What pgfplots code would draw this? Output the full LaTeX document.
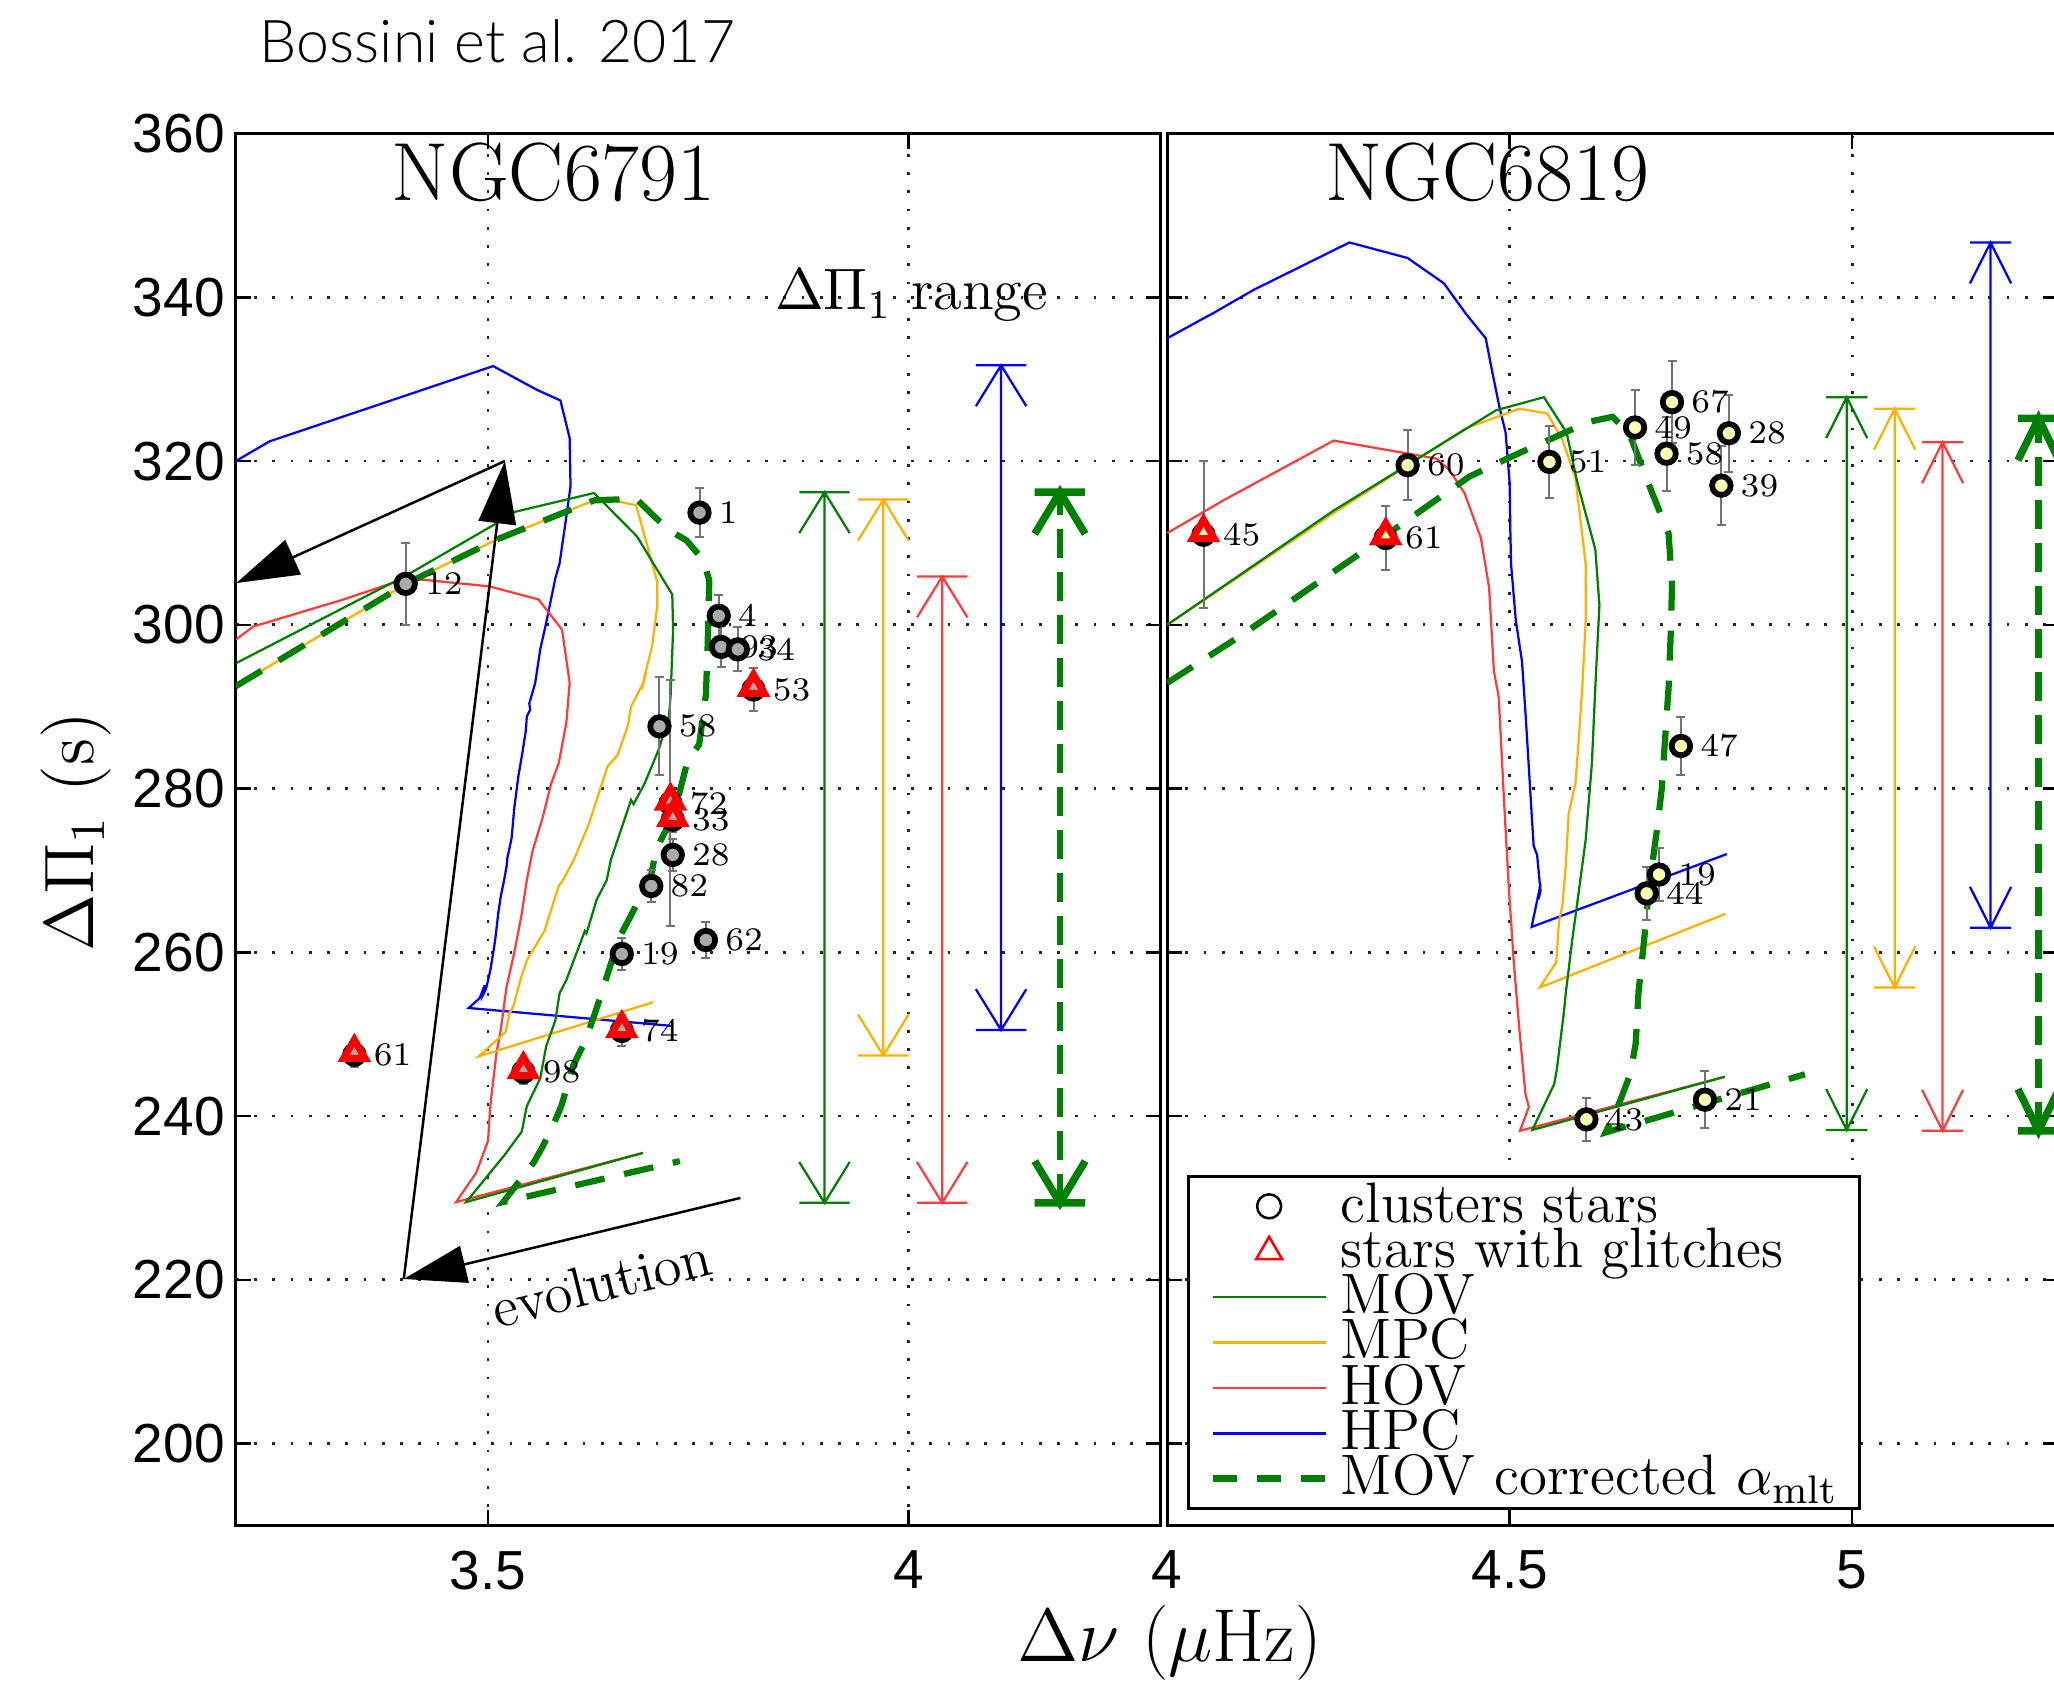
\RequirePackage{fix-cm}
\documentclass[border=0pt]{standalone}
\usepackage{pgfplots}
\pgfplotsset{compat=1.18}
\usetikzlibrary{arrows.meta}
\usepackage{fontspec}
\newfontfamily\helv{Liberation Sans}
\newfontfamily\lightsans{Lato Light}

\definecolor{mgreen}{RGB}{0,128,0}
\definecolor{morange}{RGB}{255,176,0}
\definecolor{mred}{RGB}{255,60,60}
\definecolor{mblue}{RGB}{0,0,255}
\definecolor{ptgray}{RGB}{170,170,170}
\definecolor{ptyellow}{RGB}{255,255,180}
\definecolor{errgray}{RGB}{115,115,115}

\tikzset{lab/.style={anchor=west, xshift=3.3pt, inner sep=0pt, font=\fontsize{6.6}{6.6}\selectfont, black}}

\pgfplotsset{
  panel/.style={
    scale only axis, height=278.38pt, ymin=190, ymax=360, ytick={200,220,...,360},
    axis line style={line width=0.6pt}, tick align=inside, major tick length=3pt,
    every tick/.style={black, line width=0.5pt},
    grid=major, major grid style={black!85, line width=0.55pt, dash pattern=on 0.55pt off 3.1pt},
    ticklabel style={font=\helv\fontsize{11}{11}\selectfont},
    /pgf/number format/assume math mode=true,
    xticklabel style={yshift=-1.5pt}, yticklabel style={xshift=1.3pt},
    legend image code/.code={\draw[mark repeat=2,mark phase=2,##1] plot coordinates {(0pt,0pt) (11.3pt,0pt) (22.6pt,0pt)};},
  },
  trk/.style={line width=0.45pt, forget plot, mark=none},
  dtrk/.style={mgreen, line width=1.25pt, dash pattern=on 6pt off 4pt, forget plot, mark=none},
  rng/.style={line width=0.45pt, forget plot, mark=none, unbounded coords=jump},
  rngthick/.style={mgreen, line width=1.5pt, forget plot, mark=none, unbounded coords=jump},
  rngdash/.style={mgreen, line width=1.3pt, dash pattern=on 5.8pt off 2.8pt, forget plot, mark=none},
  evo/.style={black, line width=0.5pt, forget plot, mark=none, -{Triangle[length=12.5pt,width=7.5pt]}},
  stars/.style={black, only marks, mark=*, mark size=1.85pt, forget plot,
    point meta=explicit symbolic, nodes near coords, nodes near coords style={lab},
    error bars/y dir=both, error bars/y explicit,
    error bars/error bar style={errgray, line width=0.4pt},
    error bars/error mark options={rotate=90, errgray, mark size=0.9pt, line width=0.4pt}},
  glitch/.style={only marks, mark=triangle*, mark size=2.5pt, forget plot},
}

\begin{document}
\begin{tikzpicture}
%================ LEFT PANEL: NGC6791 =================
\begin{axis}[panel, at={(47.16pt,31.1pt)}, anchor=south west, width=185.02pt,
  xmin=3.2, xmax=4.3, xtick={3.5,4}]

% HPC
\addplot[trk, mblue] coordinates {(3.200,320.0) (3.240,322.4) (3.506,331.6) (3.558,328.7) (3.586,327.4) (3.597,322.8) (3.598,316.9) (3.593,313.2) (3.585,307.5) (3.580,305.7) (3.569,300.2) (3.562,297.0) (3.556,292.9) (3.549,290.4) (3.550,289.6) (3.546,288.8) (3.545,287.2) (3.541,284.5) (3.536,281.5) (3.531,277.5) (3.528,274.0) (3.525,272.5) (3.523,271.6) (3.522,270.5) (3.519,268.8) (3.515,266.8) (3.512,264.7) (3.509,262.0) (3.507,260.5) (3.506,259.9) (3.503,258.0) (3.500,256.6) (3.497,255.4) (3.494,254.8) (3.496,256.0) (3.490,254.4) (3.477,253.2) (3.720,251.0)};
% HOV
\addplot[trk, mred] coordinates {(3.200,298.2) (3.221,299.8) (3.325,303.0) (3.404,305.7) (3.501,304.7) (3.560,303.1) (3.588,299.4) (3.597,292.9) (3.593,288.0) (3.584,283.1) (3.575,280.6) (3.565,276.5) (3.553,272.4) (3.546,268.8) (3.540,264.7) (3.531,259.9) (3.522,255.8) (3.515,250.5) (3.510,247.7) (3.504,242.5) (3.502,240.4) (3.500,237.0) (3.486,233.1) (3.462,229.5) (3.684,235.5)};
% MPC
\addplot[trk, morange] coordinates {(3.200,292.5) (3.404,305.1) (3.510,310.4) (3.626,315.2) (3.653,315.1) (3.676,314.6) (3.701,305.3) (3.701,302.2) (3.695,297.4) (3.690,295.3) (3.686,293.7) (3.683,292.2) (3.685,293.0) (3.670,290.0) (3.666,287.6) (3.654,284.1) (3.642,282.7) (3.620,275.7) (3.602,271.3) (3.589,268.8) (3.584,268.1) (3.567,262.6) (3.546,259.0) (3.543,258.0) (3.545,258.6) (3.540,257.2) (3.530,253.4) (3.524,252.2) (3.526,252.8) (3.521,250.3) (3.489,247.3) (3.696,253.9)};
% MOV
\addplot[trk, mgreen] coordinates {(3.200,295.3) (3.404,306.1) (3.510,312.4) (3.532,313.8) (3.626,316.1) (3.677,310.8) (3.719,303.7) (3.720,299.4) (3.717,291.3) (3.715,288.8) (3.703,284.8) (3.686,280.6) (3.673,278.1) (3.670,278.6) (3.646,271.3) (3.641,268.8) (3.629,266.4) (3.617,262.3) (3.615,262.6) (3.593,256.6) (3.585,255.0) (3.580,251.7) (3.569,248.5) (3.562,244.6) (3.546,241.2) (3.540,238.1) (3.520,235.3) (3.474,229.5) (3.684,235.5)};
% MOV corrected
\addplot[dtrk] coordinates {(3.200,292.5) (3.404,305.1) (3.510,310.4) (3.626,315.2) (3.651,315.3) (3.676,315.4) (3.700,313.0) (3.716,311.5) (3.736,310.3) (3.756,307.9) (3.763,305.4) (3.761,297.2) (3.759,291.5) (3.751,285.4) (3.737,283.3) (3.728,279.7) (3.720,276.7) (3.700,272.6) (3.694,269.5) (3.672,264.9) (3.656,261.8) (3.632,254.1) (3.617,249.5) (3.601,246.1) (3.587,241.2) (3.577,238.8) (3.565,236.3) (3.554,234.3) (3.518,229.5) (3.728,234.5)};

% range arrows
\addplot[rng, mgreen] coordinates {(3.9,229.4)(3.9,316.2)(3.9,nan)(3.87,316.2)(3.93,316.2)(3.9,nan)(3.87,311.2)(3.9,316.2)(3.93,311.2)(3.9,nan)(3.87,229.4)(3.93,229.4)(3.9,nan)(3.87,234.4)(3.9,229.4)(3.93,234.4)};
\addplot[rng, morange] coordinates {(3.97,247.4)(3.97,315.3)(3.97,nan)(3.94,315.3)(4.00,315.3)(3.97,nan)(3.94,310.3)(3.97,315.3)(4.00,310.3)(3.97,nan)(3.94,247.4)(4.00,247.4)(3.97,nan)(3.94,252.4)(3.97,247.4)(4.00,252.4)};
\addplot[rng, mred] coordinates {(4.04,229.4)(4.04,305.9)(4.04,nan)(4.01,305.9)(4.07,305.9)(4.04,nan)(4.01,300.9)(4.04,305.9)(4.07,300.9)(4.04,nan)(4.01,229.4)(4.07,229.4)(4.04,nan)(4.01,234.4)(4.04,229.4)(4.07,234.4)};
\addplot[rng, mblue] coordinates {(4.11,250.5)(4.11,331.7)(4.11,nan)(4.08,331.7)(4.14,331.7)(4.11,nan)(4.08,326.7)(4.11,331.7)(4.14,326.7)(4.11,nan)(4.08,250.5)(4.14,250.5)(4.11,nan)(4.08,255.5)(4.11,250.5)(4.14,255.5)};
\addplot[rngdash] coordinates {(4.18,229.4)(4.18,316.2)};
\addplot[rngthick] coordinates {(4.15,316.2)(4.21,316.2)(4.18,nan)(4.15,311.1)(4.18,316.2)(4.21,311.1)(4.18,nan)(4.15,229.4)(4.21,229.4)(4.18,nan)(4.15,234.5)(4.18,229.4)(4.21,234.5)};

% evolution arrows
\addplot[evo] coordinates {(3.800,230.0) (3.3997,220.1)};
\addplot[evo] coordinates {(3.3997,220.1) (3.520,320.0)};
\addplot[evo] coordinates {(3.520,320.0) (3.2005,305.1)};

% stars
\addplot[stars, mark options={draw=black, fill=ptgray, line width=1.15pt}]
  table[x=x, y=y, y error=e, meta=lab] {
x y e lab
3.402 305.0 5.0 12
3.7514 313.7 2.95 1
3.7743 301.1 2.6 4
3.777 297.3 2.5 93
3.797 297.0 2.7 34
3.8156 292.1 2.6 53
3.7038 287.6 6.0 58
3.7168 278.2 15.0 72
3.7196 276.2 1.5 33
3.7196 271.9 2.0 28
3.694 268.1 2.0 82
3.759 261.5 2.2 62
3.659 259.8 2.0 19
3.659 250.4 1.9 74
3.341 247.5 1.5 61
3.542 245.4 1.5 98
};
\addplot[glitch, mark options={draw=red, fill=ptgray, line width=1.4pt}]
  coordinates {(3.8156,292.4) (3.7168,278.5) (3.7196,276.5) (3.659,250.7) (3.341,247.8) (3.542,245.7)};

\node[font=\fontsize{16.5}{16.5}\selectfont, anchor=base, inner sep=0pt] at (axis cs:3.578,351.8) {NGC6791};
\node[font=\fontsize{11.7}{11.7}\selectfont, anchor=base, inner sep=0pt] at (axis cs:4.0035,338.5) {$\Delta\Pi_1$ range};
\node[font=\fontsize{11.4}{11.4}\selectfont, rotate=14, inner sep=0pt] at (axis cs:3.6345,219.7) {evolution};
\end{axis}

%================ RIGHT PANEL: NGC6819 =================
\begin{axis}[panel, at={(233.44pt,31.1pt)}, anchor=south west, width=178.1pt,
  xmin=4, xmax=5.3, xtick={4,4.5,5}, yticklabels={},
  legend cell align=left,
  legend style={at={(0.02268,0.2521)}, anchor=north west, draw=black, line width=0.6pt, fill=white,
    inner xsep=4.1pt, inner ysep=2pt, row sep=0.98pt, column sep=2.4pt,
    font=\fontsize{11.4}{11.4}\selectfont,
    nodes={inner sep=0pt, text height=7.3pt, text depth=0.8pt}}]

\addlegendimage{only marks, mark=o, black, mark size=2.4pt, line width=0.5pt}
\addlegendentry{clusters stars}
\addlegendimage{only marks, mark=triangle, red, mark size=3pt, line width=0.5pt}
\addlegendentry{stars with glitches}
\addlegendimage{mgreen, line width=0.5pt}
\addlegendentry{MOV}
\addlegendimage{morange, line width=0.5pt}
\addlegendentry{MPC}
\addlegendimage{mred, line width=0.5pt}
\addlegendentry{HOV}
\addlegendimage{mblue, line width=0.5pt}
\addlegendentry{HPC}
\addlegendimage{mgreen, line width=1.3pt, dash pattern=on 4.8pt off 4pt}
\addlegendentry{MOV corrected $\alpha_{\mathrm{mlt}}$}

% HPC
\addplot[trk, mblue] coordinates {(4.000,335.0) (4.070,338.2) (4.126,340.9) (4.266,346.7) (4.351,344.8) (4.404,341.7) (4.436,338.0) (4.465,335.0) (4.475,330.7) (4.485,326.6) (4.494,323.5) (4.500,317.3) (4.501,311.2) (4.502,307.4) (4.509,300.5) (4.518,295.5) (4.523,289.3) (4.528,282.5) (4.533,275.6) (4.535,273.0) (4.540,271.9) (4.545,267.5) (4.542,266.5) (4.545,268.3) (4.532,263.1) (4.817,272.0)};
% HOV
\addplot[trk, mred] coordinates {(4.000,311.2) (4.082,315.2) (4.243,322.5) (4.393,320.3) (4.412,318.9) (4.434,316.1) (4.458,310.6) (4.470,304.5) (4.477,294.3) (4.484,291.2) (4.492,278.1) (4.499,267.5) (4.506,258.8) (4.514,250.7) (4.523,242.7) (4.528,241.1) (4.515,238.2) (4.814,244.8)};
% MPC
\addplot[trk, morange] coordinates {(4.000,300.0) (4.242,313.6) (4.436,324.0) (4.514,326.4) (4.555,325.8) (4.577,322.6) (4.596,317.9) (4.611,307.4) (4.611,300.5) (4.606,292.4) (4.601,286.2) (4.596,280.6) (4.586,276.9) (4.582,270.7) (4.577,265.7) (4.572,263.8) (4.568,258.8) (4.544,255.7) (4.815,264.7)};
% MOV
\addplot[trk, mgreen] coordinates {(4.000,300.0) (4.242,313.9) (4.480,326.2) (4.550,327.8) (4.583,323.5) (4.599,317.3) (4.625,309.2) (4.631,302.4) (4.625,292.4) (4.620,283.1) (4.611,273.8) (4.601,267.5) (4.591,261.3) (4.582,255.1) (4.579,252.6) (4.569,245.8) (4.565,243.9) (4.533,238.3) (4.814,244.8)};
% MOV corrected
\addplot[dtrk] coordinates {(4.000,292.9) (4.106,298.6) (4.271,308.1) (4.441,318.1) (4.504,320.6) (4.616,324.8) (4.650,325.4) (4.674,323.5) (4.708,316.1) (4.732,311.1) (4.737,304.9) (4.735,298.7) (4.732,292.4) (4.727,286.2) (4.722,280.0) (4.715,275.0) (4.703,267.5) (4.696,261.3) (4.688,255.1) (4.684,248.9) (4.676,245.1) (4.659,241.4) (4.640,238.0) (4.931,245.1)};

% range arrows
\addplot[rng, mgreen] coordinates {(4.992,238.3)(4.992,327.8)(4.992,nan)(4.962,327.8)(5.022,327.8)(4.992,nan)(4.962,322.8)(4.992,327.8)(5.022,322.8)(4.992,nan)(4.962,238.3)(5.022,238.3)(4.992,nan)(4.962,243.3)(4.992,238.3)(5.022,243.3)};
\addplot[rng, morange] coordinates {(5.062,255.7)(5.062,326.4)(5.062,nan)(5.032,326.4)(5.092,326.4)(5.062,nan)(5.032,321.4)(5.062,326.4)(5.092,321.4)(5.062,nan)(5.032,255.7)(5.092,255.7)(5.062,nan)(5.032,260.7)(5.062,255.7)(5.092,260.7)};
\addplot[rng, mred] coordinates {(5.132,238.2)(5.132,322.3)(5.132,nan)(5.102,322.3)(5.162,322.3)(5.132,nan)(5.102,317.3)(5.132,322.3)(5.162,317.3)(5.132,nan)(5.102,238.2)(5.162,238.2)(5.132,nan)(5.102,243.2)(5.132,238.2)(5.162,243.2)};
\addplot[rng, mblue] coordinates {(5.202,263.0)(5.202,346.7)(5.202,nan)(5.172,346.7)(5.232,346.7)(5.202,nan)(5.172,341.7)(5.202,346.7)(5.232,341.7)(5.202,nan)(5.172,263.0)(5.232,263.0)(5.202,nan)(5.172,268.0)(5.202,263.0)(5.232,268.0)};
\addplot[rngdash] coordinates {(5.272,238.2)(5.272,325.2)};
\addplot[rngthick] coordinates {(5.242,325.2)(5.302,325.2)(5.272,nan)(5.242,320.1)(5.272,325.2)(5.302,320.1)(5.272,nan)(5.242,238.2)(5.302,238.2)(5.272,nan)(5.242,243.3)(5.272,238.2)(5.302,243.3)};

% stars
\addplot[stars, mark options={draw=black, fill=ptyellow, line width=1.15pt}]
  table[x=x, y=y, y error=e, meta=lab] {
x y e lab
4.053 311.0 9.0 45
4.319 310.6 3.9 61
4.351 319.5 4.3 60
4.558 319.9 4.4 51
4.683 324.1 4.6 49
4.737 327.2 5.0 67
4.729 320.9 4.5 58
4.820 323.4 4.7 28
4.809 317.0 4.8 39
4.750 285.2 3.6 47
4.718 269.5 3.2 19
4.700 267.2 3.2 44
4.612 239.6 2.6 43
4.785 242.0 3.5 21
};
\addplot[glitch, mark options={draw=red, fill=ptyellow, line width=1.4pt}]
  coordinates {(4.053,311.3) (4.319,310.9)};

\node[font=\fontsize{16.5}{16.5}\selectfont, anchor=base, inner sep=0pt] at (axis cs:4.467,351.8) {NGC6819};
\end{axis}

\node[anchor=base west, inner sep=0pt, font=\lightsans\fontsize{11.8}{11.8}\selectfont] at (51.8pt,323.7pt) {Bossini et al. 2017};
\node[rotate=90, inner sep=0pt, font=\fontsize{14}{14}\selectfont] at (15.3pt,169.8pt) {$\Delta\Pi_1$ (s)};
\node[inner sep=0pt, font=\fontsize{15}{15}\selectfont] at (233.9pt,7.7pt) {$\Delta\nu$ ($\mu$Hz)};

\pgfresetboundingbox
\useasboundingbox (0pt,0pt) rectangle (410.8pt,336.2pt);
\end{tikzpicture}
\end{document}
